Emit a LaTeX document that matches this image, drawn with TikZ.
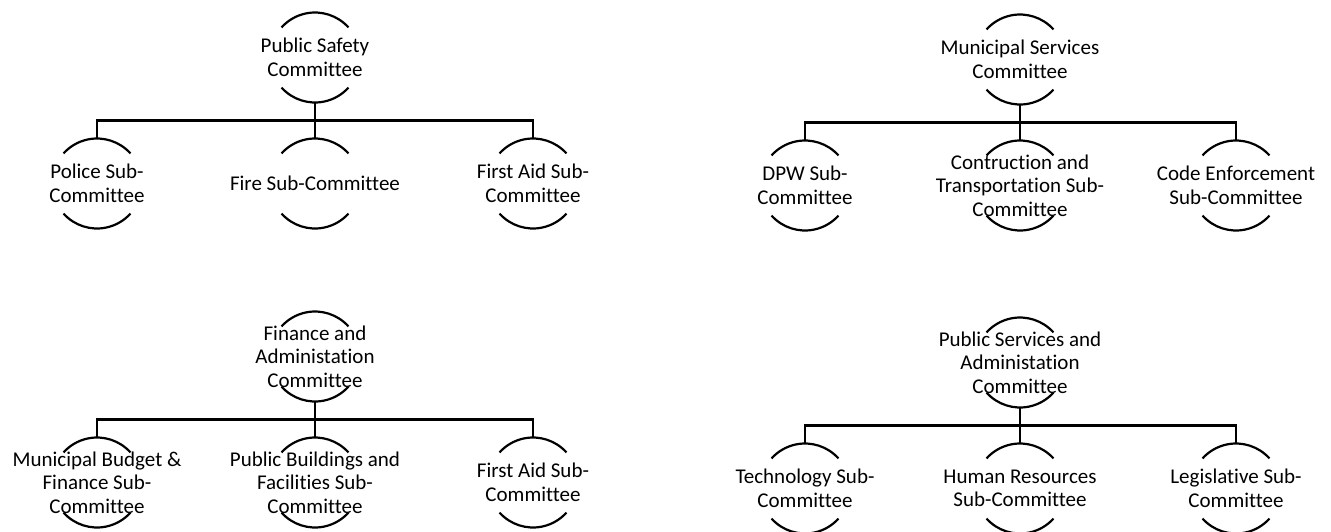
\documentclass[tikz,border=0pt]{standalone}
\usepackage{fontspec}
\setmainfont{Carlito}[Ligatures=NoCommon]
\usetikzlibrary{calc}
\tikzset{
  circ/.style={circle, minimum size=90pt, inner sep=0pt, outer sep=0pt, draw=none},
  lbl/.style={align=center, inner sep=0pt, font=\fontsize{21}{23.5}\selectfont},
  arcline/.style={line width=2.2pt, black},
  conn/.style={line width=2.6pt, black},
}
\newcommand{\ringarcs}[1]{%
  \draw[arcline] (#1.42) arc[start angle=42, end angle=138, radius=45pt];
  \draw[arcline] (#1.222) arc[start angle=222, end angle=318, radius=45pt];
}
% #1 prefix, #2 root x, #3 root y, #4 left dx, #5 right dx, #6 root text, #7 left, #8 middle, #9 right
\newcommand{\orgtree}[9]{%
  \node[circ] (#1r) at (#2,#3) {};
  \node[lbl] (#1rt) at (#1r) {#6};
  \node[circ] (#1a) at (#2-#4,#3+126) {};
  \node[lbl] (#1at) at (#1a) {#7};
  \node[circ] (#1b) at (#2,#3+126) {};
  \node[lbl] (#1bt) at (#1b) {#8};
  \node[circ] (#1c) at (#2+#5,#3+126) {};
  \node[lbl] (#1ct) at (#1c) {#9};
  \ringarcs{#1r}\ringarcs{#1a}\ringarcs{#1b}\ringarcs{#1c}
  \coordinate (#1j) at ($(#1r.south)!0.5!(#1b.north)$);
  \draw[conn] (#1r.south) -- (#1j) -| (#1a.north);
  \draw[conn] (#1j) -| (#1c.north);
  \draw[conn] (#1j) -- (#1b.north);
}
\begin{document}
\begin{tikzpicture}[x=1pt, y=-1pt]
\useasboundingbox (0,0) rectangle (1331,531);
\orgtree{tl}{315}{57.5}{218}{218}{Public Safety\\Committee}{Police Sub-\\Committee}{Fire Sub-Committee}{First Aid Sub-\\Committee}
\orgtree{tr}{1020}{59.5}{215}{216}{Municipal Services\\Committee}{DPW Sub-\\Committee}{Contruction and\\Transportation Sub-\\Committee}{Code Enforcement\\Sub-Committee}
\orgtree{bl}{315}{356.5}{218}{218}{Finance and\\Administation\\Committee}{Municipal Budget \&\\Finance Sub-\\Committee}{Public Buildings and\\Facilities Sub-\\Committee}{First Aid Sub-\\Committee}
\orgtree{br}{1020}{362.5}{215}{216}{Public Services and\\Administation\\Committee}{Technology Sub-\\Committee}{Human Resources\\Sub-Committee}{Legislative Sub-\\Committee}
\end{tikzpicture}
\end{document}
